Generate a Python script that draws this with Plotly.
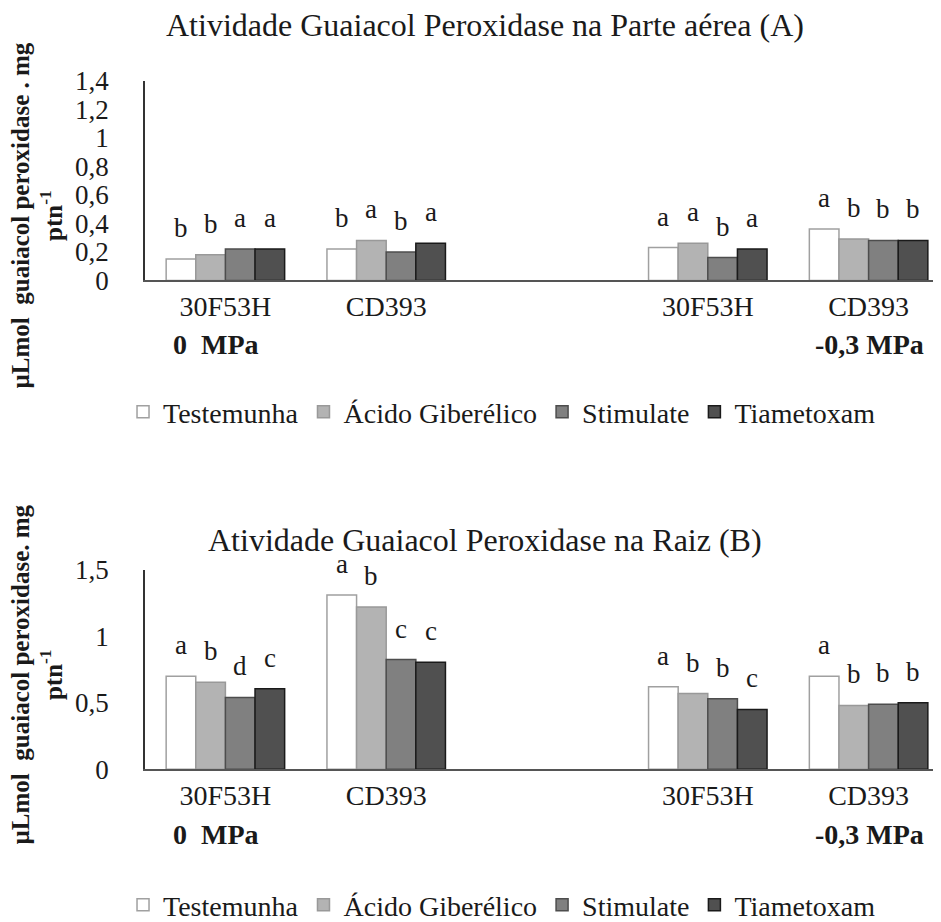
import plotly.graph_objects as go

# ---------------- data ----------------
treatments = ["Testemunha", "Ácido Giberélico", "Stimulate", "Tiametoxam"]
genotypes = ["30F53H", "CD393", "30F53H", "CD393"]
pressures = ["0 MPa", "0 MPa", "-0,3 MPa", "-0,3 MPa"]

# (A) Parte aérea - one list per treatment over the 4 genotype/pressure groups
a_testemunha = [0.15, 0.22, 0.23, 0.36]
a_acido = [0.18, 0.28, 0.26, 0.29]
a_stimulate = [0.22, 0.20, 0.16, 0.28]
a_tiametoxam = [0.22, 0.26, 0.22, 0.28]
a_let_testemunha = ["b", "b", "a", "a"]
a_let_acido = ["b", "a", "a", "b"]
a_let_stimulate = ["a", "b", "b", "b"]
a_let_tiametoxam = ["a", "a", "a", "b"]

# (B) Raiz
b_testemunha = [0.70, 1.31, 0.62, 0.70]
b_acido = [0.655, 1.22, 0.57, 0.48]
b_stimulate = [0.54, 0.825, 0.53, 0.49]
b_tiametoxam = [0.605, 0.805, 0.45, 0.50]
b_let_testemunha = ["a", "a", "a", "a"]
b_let_acido = ["b", "b", "b", "b"]
b_let_stimulate = ["d", "c", "b", "b"]
b_let_tiametoxam = ["c", "c", "c", "b"]

y_ticks_a = [0, 0.2, 0.4, 0.6, 0.8, 1, 1.2, 1.4]
y_ticks_b = [0, 0.5, 1, 1.5]

title_a = "Atividade Guaiacol Peroxidase na Parte aérea (A)"
title_b = "Atividade Guaiacol Peroxidase na Raiz (B)"
y_title = "µLmol  guaiacol peroxidase . mg<br>ptn<sup>-1</sup>"
y_title_b = "µLmol  guaiacol peroxidase. mg<br>ptn<sup>-1</sup>"

# ---------------- styling ----------------
W, H = 941, 922
FONT = "Liberation Serif"
TXT = "#1a1a1a"
fills = ["#ffffff", "#b3b3b3", "#808080", "#505050"]
lines = ["#a0a0a0", "#999999", "#4d4d4d", "#1a1a1a"]

keys = [f"{g} | {p}" for g, p in zip(genotypes, pressures)]
gap_key = "gap"
cat_array = keys[:2] + [gap_key] + keys[2:]
tick_text = genotypes[:2] + [""] + genotypes[2:]

BARGAP = 0.263
x0_px, x1_px = 137, 941


def px_y(py):
    return 1 - py / H


fig = go.Figure()

series_a = [a_testemunha, a_acido, a_stimulate, a_tiametoxam]
letters_a = [a_let_testemunha, a_let_acido, a_let_stimulate, a_let_tiametoxam]
series_b = [b_testemunha, b_acido, b_stimulate, b_tiametoxam]
letters_b = [b_let_testemunha, b_let_acido, b_let_stimulate, b_let_tiametoxam]

for i, name in enumerate(treatments):
    fig.add_trace(go.Bar(
        x=keys, y=series_a[i], name=name, xaxis="x", yaxis="y",
        marker=dict(color=fills[i], line=dict(color=lines[i], width=1.5)),
        legend="legend", showlegend=True,
    ))
for i, name in enumerate(treatments):
    fig.add_trace(go.Bar(
        x=keys, y=series_b[i], name=name, xaxis="x2", yaxis="y2",
        marker=dict(color=fills[i], line=dict(color=lines[i], width=1.5)),
        legend="legend2", showlegend=True,
    ))

# significance letters above the bars
cat_w = (x1_px - x0_px) / len(cat_array)
bar_w = cat_w * (1 - BARGAP) / len(treatments)
annotations = []
for xa, ya, ser, lets in [("x", "y", series_a, letters_a), ("x2", "y2", series_b, letters_b)]:
    for i in range(len(treatments)):
        for k, key in enumerate(keys):
            annotations.append(dict(
                x=key, y=ser[i][k], xref=xa, yref=ya, text=lets[i][k],
                showarrow=False, xshift=(i - 1.5) * bar_w, yshift=31,
                yanchor="middle", xanchor="center",
                font=dict(family=FONT, size=27, color=TXT),
            ))

# chart titles
for txt, py in [(title_a, 17), (title_b, 533)]:
    annotations.append(dict(
        x=477 / W, y=px_y(py), xref="paper", yref="paper", text=txt,
        showarrow=False, xanchor="center", yanchor="middle",
        font=dict(family=FONT, size=32, color=TXT),
    ))

# y-axis titles
for txt, py in [(y_title, 208), (y_title_b, 668)]:
    annotations.append(dict(
        x=29 / W, y=px_y(py), xref="paper", yref="paper", text=f"<b>{txt}</b>",
        showarrow=False, xanchor="center", yanchor="middle", textangle=-90,
        font=dict(family=FONT, size=25, color=TXT),
    ))

# pressure labels
for py in [337, 828]:
    annotations.append(dict(
        x=163 / W, y=px_y(py), xref="paper", yref="paper", text="<b>0  MPa</b>",
        showarrow=False, xanchor="left", yanchor="middle",
        font=dict(family=FONT, size=28, color=TXT),
    ))
    annotations.append(dict(
        x=918 / W, y=px_y(py), xref="paper", yref="paper", text="<b>-0,3 MPa</b>",
        showarrow=False, xanchor="right", yanchor="middle",
        font=dict(family=FONT, size=28, color=TXT),
    ))

xaxis_common = dict(
    type="category", categoryorder="array", categoryarray=cat_array,
    tickmode="array", tickvals=cat_array, ticktext=tick_text,
    showline=True, linecolor="#555555", linewidth=1.5,
    showgrid=False, zeroline=False, ticks="", automargin=False,
    tickfont=dict(family=FONT, size=28, color=TXT), ticklabelstandoff=0,
    domain=[x0_px / W, x1_px / W], fixedrange=True,
)
yaxis_common = dict(
    showline=True, linecolor="#333333", linewidth=1.5, showgrid=False,
    zeroline=False, ticks="", automargin=False,
    tickfont=dict(family=FONT, size=27, color=TXT), ticklabelstandoff=29,
)

legend_common = dict(
    orientation="h", xanchor="center", yanchor="middle",
    font=dict(family=FONT, size=28, color=TXT), bgcolor="rgba(0,0,0,0)",
    traceorder="normal", itemclick=False, itemdoubleclick=False,
)

fig.update_layout(
    width=W, height=H,
    margin=dict(l=0, r=0, t=0, b=0),
    paper_bgcolor="white", plot_bgcolor="white",
    barmode="group", bargap=BARGAP, bargroupgap=0,
    separators=", ",
    xaxis=dict(**xaxis_common, anchor="y"),
    yaxis=dict(**yaxis_common, anchor="x", domain=[px_y(273), px_y(73)],
               range=[0, 1.4], tickvals=y_ticks_a),
    xaxis2=dict(**xaxis_common, anchor="y2"),
    yaxis2=dict(**yaxis_common, anchor="x2", domain=[px_y(763), px_y(563)],
                range=[0, 1.5], tickvals=y_ticks_b),
    legend=dict(**legend_common, x=0.525, y=px_y(405)),
    legend2=dict(**legend_common, x=0.525, y=px_y(899)),
    annotations=annotations,
    showlegend=True,
)

fig.write_html("out.html")
